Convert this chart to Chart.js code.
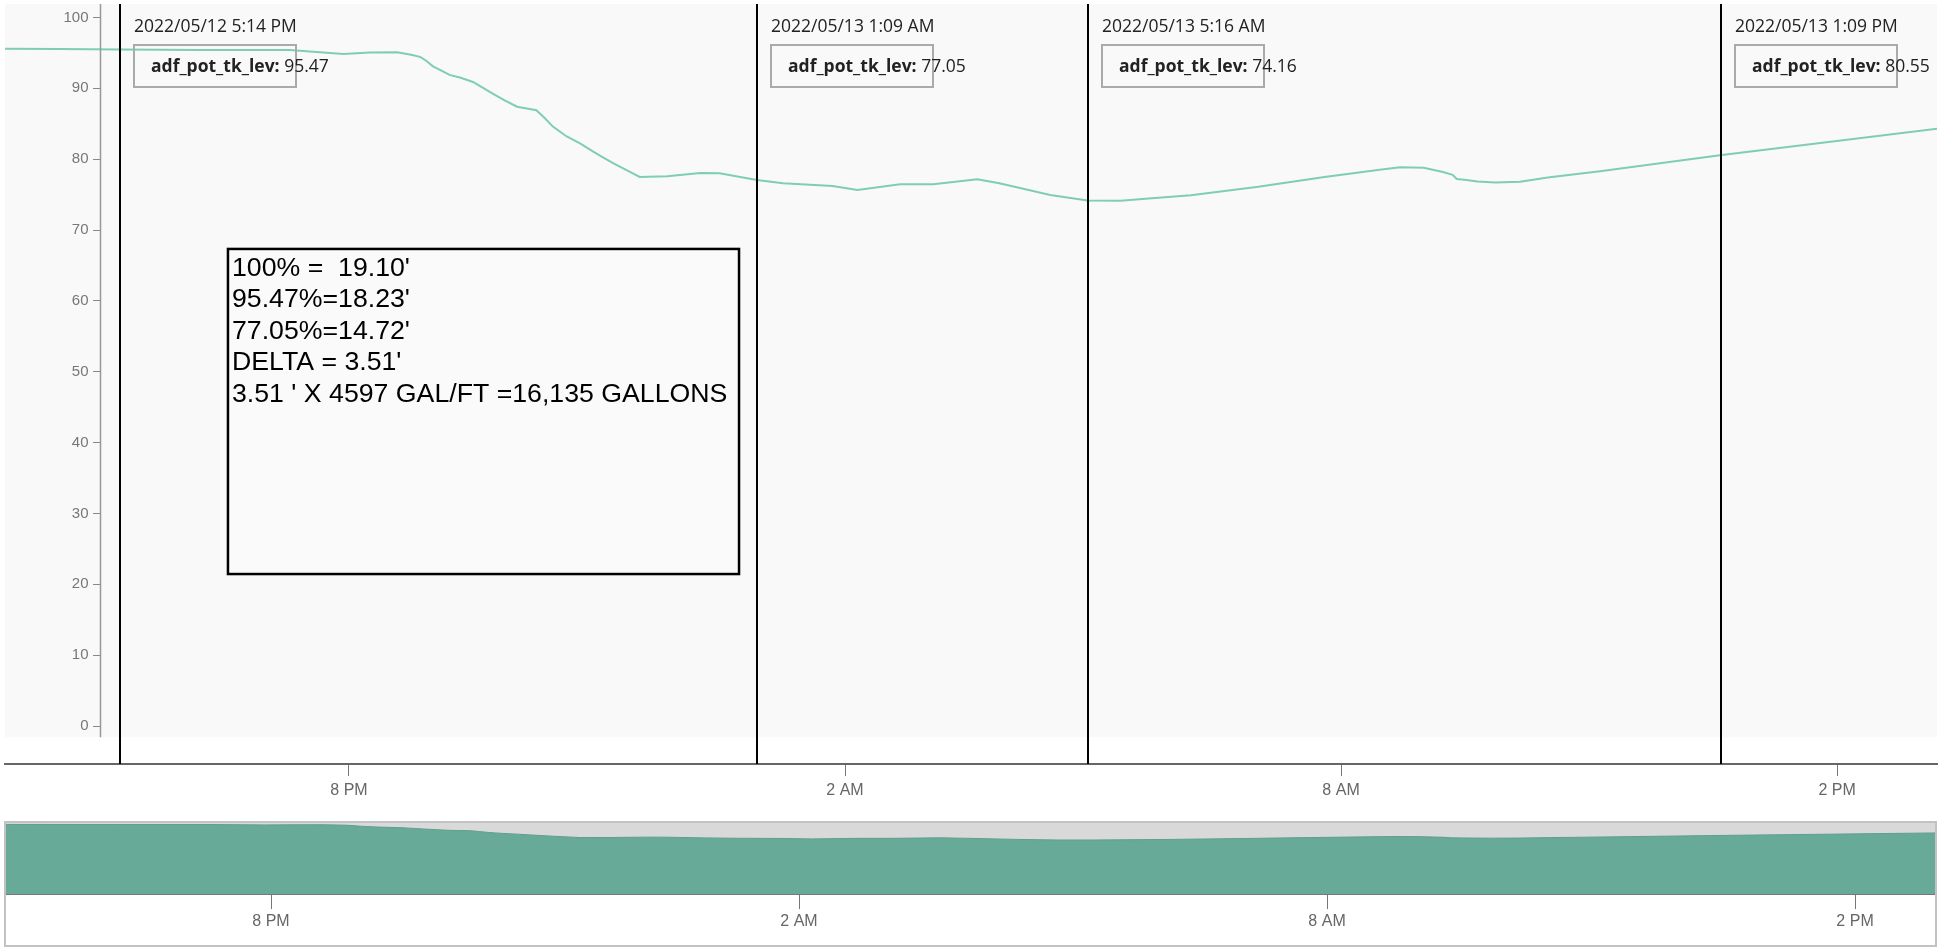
<!DOCTYPE html>
<html>
<head>
<meta charset="utf-8">
<script src="https://cdn.jsdelivr.net/npm/chart.js@4.4.1/dist/chart.umd.min.js"></script>
<style>
  html, body { margin: 0; padding: 0; background: #fff; }
  #wrap { position: relative; width: 1949px; height: 949px; overflow: hidden; }
  #mainChart { position: absolute; left: 0; top: 0; }
  #navChart { position: absolute; left: 0; top: 820px; }
</style>
</head>
<body>
<div id="wrap">
  <canvas id="mainChart" width="1949" height="810"></canvas>
  <canvas id="navChart" width="1949" height="129"></canvas>
</div>
<script>
// tank level readings (percent)
var times = [
  '05/12 15:50', '05/12 16:30', '05/12 17:14', '05/12 18:12', '05/12 19:17', '05/12 19:39',
  '05/12 19:56', '05/12 20:15', '05/12 20:35', '05/12 20:46', '05/12 20:52', '05/12 20:56',
  '05/12 21:01', '05/12 21:06', '05/12 21:13', '05/12 21:21', '05/12 21:30', '05/12 21:37',
  '05/12 21:44', '05/12 21:53', '05/12 22:02', '05/12 22:16', '05/12 22:22', '05/12 22:28',
  '05/12 22:33', '05/12 22:38', '05/12 22:48', '05/12 22:57', '05/12 23:04', '05/12 23:12',
  '05/12 23:19', '05/12 23:26', '05/12 23:31', '05/12 23:51', '05/13 00:15', '05/13 00:29',
  '05/13 00:56', '05/13 01:15', '05/13 01:51', '05/13 02:09', '05/13 02:40', '05/13 03:04',
  '05/13 03:36', '05/13 03:52', '05/13 04:29', '05/13 04:56', '05/13 05:20', '05/13 05:38',
  '05/13 06:11', '05/13 07:00', '05/13 07:48', '05/13 08:28', '05/13 08:43', '05/13 09:00',
  '05/13 09:14', '05/13 09:21', '05/13 09:24', '05/13 09:31', '05/13 09:39', '05/13 09:52',
  '05/13 10:10', '05/13 10:30', '05/13 11:08', '05/13 12:35', '05/13 15:13'
];
var levels = [
  95.6, 95.55, 95.47, 95.4, 95.4, 95.1,
  94.85, 95.05, 95.1, 94.7, 94.4, 93.9,
  93.1, 92.6, 91.9, 91.5, 90.9, 90.1,
  89.3, 88.3, 87.4, 86.9, 85.8, 84.6,
  83.9, 83.2, 82.2, 81.1, 80.3, 79.4,
  78.7, 78.0, 77.5, 77.6, 78.05, 78.0,
  77.05, 76.6, 76.2, 75.65, 76.45, 76.45,
  77.15, 76.6, 74.95, 74.16, 74.15, 74.4,
  74.9, 76.1, 77.5, 78.5, 78.85, 78.8,
  78.2, 77.8, 77.2, 77.05, 76.85, 76.7,
  76.8, 77.4, 78.3, 80.55, 84.3
];

// x axis ticks
var tickTimes = ['05/12 20:00', '05/13 02:00', '05/13 08:00', '05/13 14:00'];
var tickLabels = ['8 PM', '2 AM', '8 AM', '2 PM'];
var yTicks = [0, 10, 20, 30, 40, 50, 60, 70, 80, 90, 100];

// cursor lines with their readouts
var seriesName = 'adf_pot_tk_lev';
var cursorTimes = ['05/12 17:14', '05/13 00:56', '05/13 04:56', '05/13 12:36'];
var cursorLabels = ['2022/05/12 5:14 PM', '2022/05/13 1:09 AM', '2022/05/13 5:16 AM', '2022/05/13 1:09 PM'];
var cursorValues = ['95.47', '77.05', '74.16', '80.55'];

// the hand-written note
var noteLines = [
  "100% =  19.10'",
  "95.47%=18.23'",
  "77.05%=14.72'",
  "DELTA = 3.51'",
  "3.51 ' X 4597 GAL/FT =16,135 GALLONS"
];

// hours since 2022/05/12 00:00
function toHours(s) {
  var p = s.split(' ');
  var day = parseInt(p[0].split('/')[1], 10) - 12;
  var hm = p[1].split(':');
  return day * 24 + parseInt(hm[0], 10) + parseInt(hm[1], 10) / 60;
}

var points = times.map(function(t, i) {
  return { x: toHours(t), y: levels[i] };
});

var fontFamily = '"Liberation Sans", Arial, sans-serif';
var tickFont = { family: fontFamily, size: 16 };
var yAxisAt = 16.99;

// light plot background, the y axis line and its labels
var plotBg = {
  id: 'plotBg',
  beforeDraw: function(chart) {
    var c = chart.ctx, a = chart.chartArea, y = chart.scales.y;
    var bottom = y.getPixelForValue(-1.6);
    c.save();
    c.fillStyle = '#f9f9f9';
    c.fillRect(a.left, a.top, a.right - a.left, bottom - a.top);
    c.restore();
  },
  afterDatasetsDraw: function(chart) {
    var c = chart.ctx, a = chart.chartArea, ys = chart.scales.y;
    var x = Math.round(chart.scales.x.getPixelForValue(yAxisAt)) + 0.5;
    c.save();
    c.strokeStyle = '#999';
    c.lineWidth = 1.5;
    c.beginPath();
    c.moveTo(x, a.top);
    c.lineTo(x, ys.getPixelForValue(-1.6));
    c.stroke();
    c.fillStyle = '#777';
    c.font = '15px ' + fontFamily;
    c.textAlign = 'right';
    c.textBaseline = 'middle';
    ys.ticks.forEach(function(t) {
      c.fillText(String(t.value), x - 12, ys.getPixelForValue(t.value));
    });
    c.restore();
  }
};

var cursors = {
  id: 'cursors',
  afterDraw: function(chart) {
    var c = chart.ctx, a = chart.chartArea, xs = chart.scales.x;
    c.save();
    cursorTimes.forEach(function(t, i) {
      var x = Math.round(xs.getPixelForValue(toHours(t)));
      c.strokeStyle = '#000';
      c.lineWidth = 2;
      c.beginPath();
      c.moveTo(x, a.top);
      c.lineTo(x, a.bottom);
      c.stroke();

      c.fillStyle = '#222';
      c.textBaseline = 'middle';
      c.textAlign = 'left';
      c.font = '17.5px "Open Sans", sans-serif';
      c.fillText(cursorLabels[i], x + 14, a.top + 23);

      c.strokeStyle = '#aaa';
      c.lineWidth = 2;
      c.strokeRect(x + 14, a.top + 41, 162, 42);

      c.font = 'bold 17.5px "Open Sans", sans-serif';
      var name = seriesName + ':';
      c.fillText(name, x + 31, a.top + 63);
      var w = c.measureText(name).width;
      c.font = '17.5px "Open Sans", sans-serif';
      c.fillText(' ' + cursorValues[i], x + 31 + w, a.top + 63);
    });
    c.restore();
  }
};

var note = {
  id: 'note',
  afterDraw: function(chart) {
    var c = chart.ctx, xs = chart.scales.x, ys = chart.scales.y;
    var l = xs.getPixelForValue(18.536), r = xs.getPixelForValue(24.718);
    var t = ys.getPixelForValue(67.33), b = ys.getPixelForValue(21.45);
    c.save();
    c.fillStyle = '#fafafa';
    c.fillRect(l, t, r - l, b - t);
    c.strokeStyle = '#000';
    c.lineWidth = 2.5;
    c.strokeRect(l, t, r - l, b - t);
    c.fillStyle = '#000';
    c.textAlign = 'left';
    c.textBaseline = 'alphabetic';
    c.font = '26.7px ' + fontFamily;
    noteLines.forEach(function(line, i) {
      c.fillText(line, l + 4, t + 27 + i * 31.5);
    });
    c.restore();
  }
};

new Chart(document.getElementById('mainChart').getContext('2d'), {
  type: 'line',
  data: {
    datasets: [{
      data: points,
      borderColor: '#7ecdb4',
      borderWidth: 2,
      pointRadius: 0,
      tension: 0,
      fill: false
    }]
  },
  options: {
    responsive: false,
    animation: false,
    devicePixelRatio: 1,
    layout: { padding: { left: 5, top: 4, right: 12, bottom: 0 } },
    plugins: { legend: { display: false }, tooltip: { enabled: false } },
    scales: {
      x: {
        type: 'linear',
        position: 'bottom',
        min: 15.839,
        max: 39.209,
        afterBuildTicks: function(s) {
          s.ticks = tickTimes.map(function(t) { return { value: toHours(t) }; });
        },
        afterFit: function(s) { s.height = 46; },
        ticks: {
          autoSkip: false,
          maxRotation: 0,
          padding: 5,
          color: '#666',
          font: tickFont,
          callback: function(v, i) { return tickLabels[i]; }
        },
        grid: { drawOnChartArea: false, drawTicks: true, tickLength: 12, tickColor: '#777', tickWidth: 1 },
        border: { display: true, color: '#666', width: 2 }
      },
      y: {
        type: 'linear',
        position: { x: yAxisAt },
        min: -5.36,
        max: 101.9,
        afterBuildTicks: function(s) {
          s.ticks = yTicks.map(function(v) { return { value: v }; });
        },
        ticks: { display: false },
        grid: { drawOnChartArea: false, drawTicks: true, tickLength: 7, tickColor: '#888' },
        border: { display: false }
      }
    }
  },
  plugins: [plotBg, cursors, note]
});

// navigator strip underneath
var navBg = {
  id: 'navBg',
  beforeDraw: function(chart) {
    var c = chart.ctx, a = chart.chartArea;
    c.save();
    c.fillStyle = '#d9d9d9';
    c.fillRect(a.left, a.top, a.right - a.left, a.bottom - a.top);
    c.restore();
  },
  afterDraw: function(chart) {
    var c = chart.ctx, a = chart.chartArea;
    c.save();
    c.strokeStyle = '#c2c2c2';
    c.lineWidth = 2;
    c.strokeRect(a.left, a.top - 1, a.right - a.left, chart.height - a.top - 2);
    c.restore();
  }
};

new Chart(document.getElementById('navChart').getContext('2d'), {
  type: 'line',
  data: {
    datasets: [{
      data: points,
      borderColor: '#5f9f8d',
      borderWidth: 1,
      backgroundColor: '#68aa98',
      fill: 'origin',
      pointRadius: 0,
      tension: 0
    }]
  },
  options: {
    responsive: false,
    animation: false,
    devicePixelRatio: 1,
    layout: { padding: { left: 5, top: 3, right: 13, bottom: 2 } },
    plugins: { legend: { display: false }, tooltip: { enabled: false } },
    scales: {
      x: {
        type: 'linear',
        min: 16.977,
        max: 38.92,
        afterBuildTicks: function(s) {
          s.ticks = tickTimes.map(function(t) { return { value: toHours(t) }; });
        },
        afterFit: function(s) { s.height = 53; },
        ticks: {
          autoSkip: false,
          maxRotation: 0,
          padding: 3,
          color: '#666',
          font: tickFont,
          callback: function(v, i) { return tickLabels[i]; }
        },
        grid: { drawOnChartArea: false, drawTicks: true, tickLength: 15, tickColor: '#777', tickWidth: 1 },
        border: { display: true, color: '#777', width: 2 }
      },
      y: { display: false, min: 0, max: 97.5 }
    }
  },
  plugins: [navBg]
});
</script>
</body>
</html>
